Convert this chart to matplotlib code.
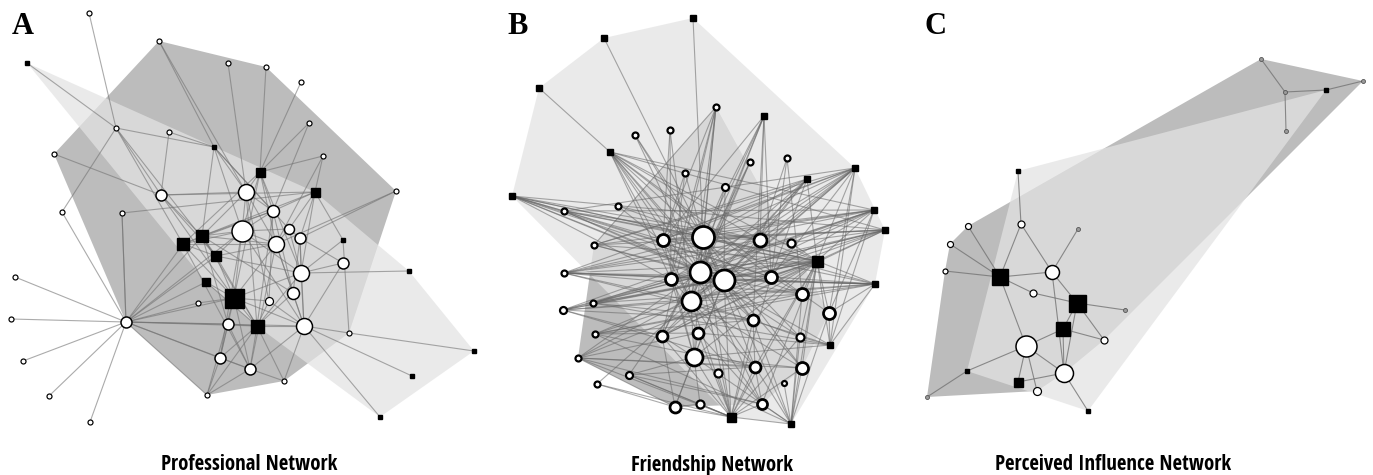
import matplotlib.pyplot as plt
import matplotlib.font_manager as fm
from matplotlib.textpath import TextToPath
from matplotlib.collections import LineCollection

# ---------------- A: professional network ----------------
# node layout (pixel coords), kind c=circle s=square g=grey dot, size = diameter in px,
# hull: 1 = circle group hull, 2 = square group hull, 0 = outside
a_x = [89, 159, 27, 228, 266, 301, 116, 169, 309, 214, 54, 323, 260, 315, 396, 161, 246, 62, 122,
       273, 242, 202, 183, 289, 300, 276, 343, 216, 343, 301, 409, 206, 293, 234, 198, 269,
       15, 11, 126, 228, 257, 304, 349, 474, 23, 220, 250, 412, 49, 207, 284, 380, 90]
a_y = [13, 41, 63, 63, 67, 82, 128, 132, 123, 147, 154, 156, 172, 192, 191, 195, 192, 212, 213,
       211, 231, 236, 244, 229, 238, 244, 240, 256, 263, 273, 271, 282, 293, 298, 303, 301,
       277, 319, 322, 324, 326, 326, 333, 351, 361, 358, 369, 376, 396, 395, 381, 417, 422]
a_kind = "ccsccccccsccssccccc" "ccsscccssccsscscc" "ccccsccscccscccsc"
a_size = [5, 5, 5, 5, 5, 5, 5, 5, 5, 5, 5, 5, 9, 9, 5, 11, 16, 5, 5,
          12, 21, 12, 12, 10, 11, 16, 5, 10, 11, 16, 5, 8, 12, 19, 5, 8,
          5, 5, 11, 11, 13, 16, 5, 5, 5, 11, 11, 5, 5, 5, 5, 5, 5]
a_hull = [0, 1, 2, 1, 1, 0, 1, 1, 1, 2, 1, 1, 2, 2, 1, 1, 1, 0, 1,
          1, 1, 2, 2, 1, 1, 1, 2, 2, 1, 1, 2, 2, 1, 2, 1, 1,
          0, 0, 1, 1, 2, 1, 1, 2, 0, 1, 1, 2, 0, 1, 1, 2, 0]
a_links = {
    0: [6], 1: [9, 16], 2: [6], 3: [16], 4: [12], 5: [12],
    6: [9, 22, 27, 15, 17], 7: [9, 15], 8: [12, 19], 9: [16, 19, 20, 21, 23],
    10: [15], 11: [12, 13, 25], 12: [16, 19, 20, 22, 25, 29, 33],
    13: [19, 23, 21, 29, 15, 18, 24], 14: [24, 25], 15: [16, 21, 27, 33],
    16: [19, 20, 21, 25, 40, 35], 17: [38], 18: [38],
    19: [20, 21, 22, 32, 35, 40], 20: [21, 22, 23, 25, 27, 29, 33, 41, 45],
    21: [22, 25, 27, 32, 39, 40], 22: [27, 33, 25, 46], 23: [24, 25, 29],
    24: [29, 32, 41], 25: [27, 33, 32, 41, 46], 26: [42, 13, 29], 27: [33, 29, 40],
    28: [24, 29, 41], 29: [30, 33, 40, 41], 31: [33, 40], 32: [40, 41],
    33: [40, 41, 45, 46, 49, 35], 34: [33], 35: [40, 41], 39: [40, 45, 46],
    40: [41, 45, 46, 49, 50], 41: [42, 47, 51, 50, 46], 42: [43], 45: [49, 46], 46: [50, 49],
    38: [36, 37, 44, 48, 52, 22, 21, 27, 33, 34, 39, 40, 41, 31, 45, 46, 49, 18, 20],
}

# ---------------- B: friendship network ----------------
b_x = [693, 604, 539, 716, 764, 635, 670, 610, 750, 787, 685, 855, 807, 725, 512, 564, 618, 874, 885,
       703, 663, 760, 791, 594, 817, 564, 700, 671, 724, 771, 875, 802, 691, 593, 563, 829, 753,
       595, 662, 698, 800, 830, 578, 694, 718, 755, 802, 629, 597, 784, 675, 700, 762, 731, 791]
b_y = [18, 38, 88, 107, 116, 135, 130, 152, 162, 158, 173, 168, 179, 187, 196, 211, 206, 210, 230,
       237, 240, 240, 243, 245, 261, 273, 272, 279, 280, 277, 284, 294, 301, 303, 310, 313, 320,
       334, 336, 333, 337, 345, 358, 357, 373, 367, 368, 375, 384, 383, 407, 404, 404, 417, 424]
b_kind = "ssscsccscccsscsccss" "cccccscccccscccccc" "ccccscccccccccccss"
b_size = [6, 6, 6, 6, 6, 6, 6, 6, 6, 6, 6, 6, 6, 7, 6, 6, 6, 6, 6,
          22, 12, 13, 8, 6, 11, 6, 21, 12, 21, 12, 6, 12, 19, 6, 7, 12, 11,
          6, 11, 11, 8, 6, 6, 17, 8, 11, 12, 7, 6, 5, 11, 8, 10, 9, 6]
b_hull = [2, 2, 2, 1, 2, 0, 0, 2, 0, 0, 1, 2, 2, 1, 2, 0, 0, 2, 2,
          1, 1, 1, 1, 1, 2, 0, 1, 1, 1, 1, 2, 1, 1, 1, 0, 1, 1,
          1, 1, 1, 1, 2, 1, 1, 1, 1, 1, 1, 0, 1, 1, 1, 1, 2, 2]
b_links = {
    0: [19], 1: [19], 2: [7],
    3: [20, 23, 26, 27, 32, 19, 38],
    4: [19, 26, 32, 38, 20, 21, 29, 36],
    5: [19, 26, 28], 6: [20, 27, 32],
    7: [19, 26, 28, 29, 24, 31, 36, 27, 32, 45, 21, 17, 18],
    8: [26, 32, 38], 9: [21, 29, 31], 10: [19, 20, 27],
    11: [19, 26, 28, 21, 20, 29, 35, 24, 41, 32, 15, 23, 25, 27, 38],
    12: [19, 26, 28, 21, 29, 32, 24, 20, 23, 38],
    13: [19, 26, 28], 14: [15, 20, 27, 28, 24, 26, 19, 18, 21, 29, 31],
    15: [19, 26, 28, 24, 17, 21, 29], 16: [19, 26, 21],
    17: [19, 26, 20, 24, 22, 35, 41, 28, 23, 25, 33, 38, 27],
    18: [24, 19, 26, 28, 20, 32, 25, 33, 34, 23, 38],
    19: [26, 28, 32, 21, 45, 46, 40, 20], 20: [26, 32, 43], 21: [28, 29], 22: [24],
    23: [28, 26, 24],
    24: [26, 28, 32, 20, 27, 29, 31, 35, 36, 38, 39, 43, 45, 46, 30, 41, 53, 54, 52, 40,
         25, 33, 34, 21, 19, 37, 42],
    25: [28, 19, 32, 30, 21, 29, 31, 36], 26: [28, 32, 43, 36, 52, 40], 27: [32, 43, 39],
    28: [32, 43, 36, 31, 46, 50], 29: [31],
    30: [35, 28, 19, 26, 41, 31, 34, 25, 33, 37, 27, 20], 31: [35], 32: [43, 45, 52, 46],
    33: [28, 26, 36, 41], 34: [26, 28, 38, 21, 31, 36, 45], 36: [45, 40],
    37: [28, 39, 54, 36, 45, 31],
    38: [43, 50], 39: [43, 52], 41: [35, 40, 43, 39, 32, 26],
    42: [28, 26, 39, 50, 45, 52, 46], 43: [50, 51, 46], 45: [52], 47: [43, 26, 45, 52, 53],
    48: [32, 50, 53], 50: [51],
    53: [50, 51, 43, 39, 38, 32, 26, 28, 19, 36, 45, 46, 40, 47, 42, 52, 54, 44, 29],
    54: [52, 46, 40, 35, 36, 28, 43, 45, 49, 31],
}

# ---------------- C: perceived influence network ----------------
c_x = [1261, 1363, 1285, 1326, 1286, 1018, 968, 1021, 1078, 950, 945, 1000, 1052, 1033, 1077,
       1125, 1063, 1104, 1026, 967, 1064, 1018, 1037, 927, 1088]
c_y = [59, 81, 92, 90, 131, 171, 226, 224, 229, 244, 271, 277, 272, 293, 303,
       310, 329, 340, 346, 371, 373, 382, 391, 397, 411]
c_kind = "gggsgsccgccsccs" "gsccscscgs"
c_size = [4, 4, 4, 4, 4, 4, 6, 7, 4, 6, 5, 16, 14, 7, 17,
          4, 14, 7, 21, 5, 18, 9, 8, 4, 4]
c_hull = [1, 1, 1, 2, 1, 2, 1, 1, 1, 1, 1, 2, 1, 1, 2,
          1, 2, 1, 1, 2, 1, 2, 1, 1, 2]
c_links = {
    0: [2], 2: [3, 4], 3: [1], 5: [7],
    11: [6, 9, 10, 7, 12, 13, 18], 12: [7, 8, 14, 20], 13: [14],
    14: [15, 16, 17, 20], 16: [18, 17, 20],
    18: [19, 21, 22, 20], 19: [23], 21: [20], 20: [24],
}

titles = ["Professional Network", "Friendship Network", "Perceived Influence Network"]
title_x = [249, 712, 1113]
letters = ["A", "B", "C"]
letter_x = [12, 507, 924]


def convex_hull(pts):
    pts = sorted(set(pts))

    def cross(o, a, b):
        return (a[0] - o[0]) * (b[1] - o[1]) - (a[1] - o[1]) * (b[0] - o[0])
    lower, upper = [], []
    for p in pts:
        while len(lower) >= 2 and cross(lower[-2], lower[-1], p) <= 0:
            lower.pop()
        lower.append(p)
    for p in reversed(pts):
        while len(upper) >= 2 and cross(upper[-2], upper[-1], p) <= 0:
            upper.pop()
        upper.append(p)
    return lower[:-1] + upper[:-1]


def draw_network(ax, xs, ys, kinds, sizes, hull, links, edge_col, edge_lw, ring):
    for grp, col, alpha in [(1, '#bcbcbc', 1.0), (2, '#e3e3e3', 0.72)]:
        pts = [(x, y) for x, y, h in zip(xs, ys, hull) if h == grp]
        poly = convex_hull(pts)
        ax.fill([p[0] for p in poly], [p[1] for p in poly], color=col, alpha=alpha,
                lw=0, zorder=1)
    segs = []
    for i, js in links.items():
        for j in js:
            segs.append([(xs[i], ys[i]), (xs[j], ys[j])])
    ax.add_collection(LineCollection(segs, colors=edge_col, linewidths=edge_lw, zorder=2))
    for x, y, k, d in zip(xs, ys, kinds, sizes):
        if k == 's':
            ax.plot(x, y, 's', ms=d * 0.72, color='black', zorder=3)
        elif k == 'g':
            ax.plot(x, y, 'o', ms=d * 0.72, mfc='#9a9a9a', mec='#555555', mew=0.6, zorder=3)
        else:
            ew = ring if d < 9 else ring * 1.25
            ax.plot(x, y, 'o', ms=d * 0.72, mfc='white', mec='black', mew=ew * 0.72, zorder=3)


def narrow_bold_font(sample):
    # pick the narrowest installed bold sans face for the panel captions
    bases = ('Liberation Sans', 'DejaVu Sans', 'Roboto', 'Open Sans', 'Lato', 'Inter', 'Noto Sans')
    ttp = TextToPath()
    best, best_w = None, None
    for f in fm.fontManager.ttflist:
        name = f.name
        if not name.startswith(bases) or 'Mono' in name or 'CJK' in name:
            continue
        if name.startswith('Noto Sans') and name not in ('Noto Sans', 'Noto Sans Condensed',
                                                         'Noto Sans SemiCondensed',
                                                         'Noto Sans ExtraCondensed'):
            continue
        w = f.weight if isinstance(f.weight, int) else {'bold': 700, 'heavy': 800, 'black': 900,
                                                       'semibold': 600, 'demibold': 600}.get(str(f.weight), 400)
        if w < 600 or w > 800 or f.style != 'normal':
            continue
        prop = fm.FontProperties(fname=f.fname, size=14)
        try:
            width = ttp.get_text_width_height_descent(sample, prop, ismath=False)[0]
        except Exception:
            continue
        if width > 50 and (best_w is None or width < best_w):
            best, best_w = prop, width
    if best is None:
        best = fm.FontProperties(family='DejaVu Sans', weight='bold', size=14)
    return best


fig = plt.figure(figsize=(13.73, 4.75), dpi=100)
ax = fig.add_axes([0, 0, 1, 1])
ax.set_xlim(0, 1373)
ax.set_ylim(475, 0)
ax.axis('off')

draw_network(ax, a_x, a_y, a_kind, a_size, a_hull, a_links, (0.45, 0.45, 0.45, 0.6), 0.8, 1.2)
draw_network(ax, b_x, b_y, b_kind, b_size, b_hull, b_links, (0.4, 0.4, 0.4, 0.55), 0.8, 2.2)
draw_network(ax, c_x, c_y, c_kind, c_size, c_hull, c_links, (0.45, 0.45, 0.45, 0.8), 0.8, 1.2)

fp = narrow_bold_font(titles[0])
fp.set_size(14)
probe = ax.text(0, 0, titles[0], fontproperties=fp)
fig.canvas.draw()
w = probe.get_window_extent().width
probe.remove()
fp.set_size(min(15, 14 * 181 / w))

for t, x in zip(titles, title_x):
    ax.text(x, 465, t, ha='center', va='center', fontproperties=fp, zorder=5)
for l, x in zip(letters, letter_x):
    ax.text(x, 34, l, ha='left', va='baseline', fontsize=22, fontweight='bold',
            family=['Liberation Serif', 'DejaVu Serif'], zorder=5)

fig.savefig('out.png', dpi=100)
